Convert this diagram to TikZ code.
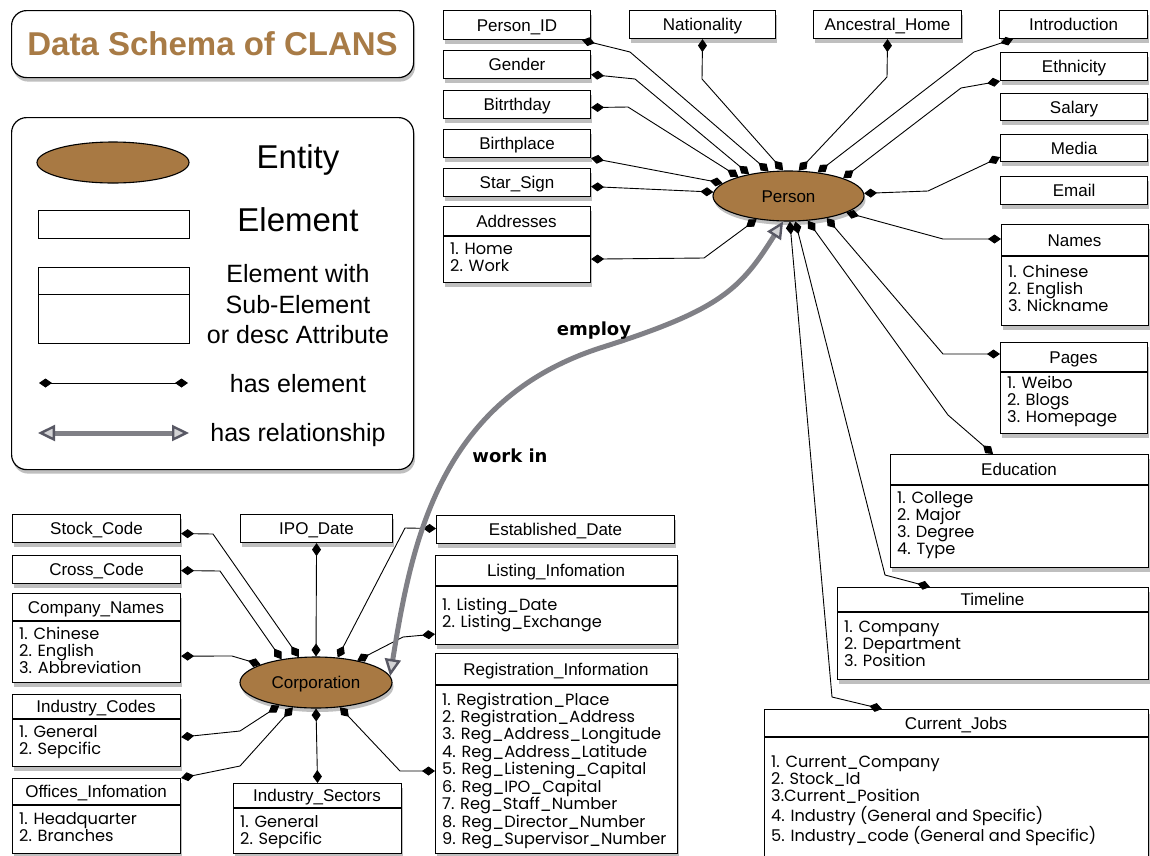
\documentclass[tikz,border=0pt]{standalone}
\usepackage{fontspec}
\setmainfont{Liberation Sans}
\newfontfamily\listfont{Poppins}
\newfontfamily\lblfont{DejaVu Sans}
\usetikzlibrary{shapes.geometric,arrows.meta,shadows,calc}
\definecolor{brownfill}{RGB}{168,121,67}
\definecolor{titlebrown}{RGB}{168,123,70}
\definecolor{relgray}{RGB}{128,128,134}
\definecolor{relhead}{RGB}{88,88,100}
\newcommand\itemlist[1]{\begin{tabular}[t]{@{}l@{}}#1\end{tabular}}
\tikzset{
  shad/.style={drop shadow={shadow xshift=1.5pt,shadow yshift=-4pt,fill=black,opacity=0.25}},
  elem/.style={draw=black, line width=1.1pt, fill=white, shad, inner sep=0pt, anchor=north west,
    font=\fontsize{17}{20}\selectfont, text height=12.4pt, text depth=0pt},
  boxtitle/.style={inner sep=0pt, font=\fontsize{17}{20}\selectfont},
  boxlist/.style={inner sep=0pt, font=\listfont\fontsize{16.2}{17}\selectfont},
  divider/.style={draw=black, line width=1.1pt},
  entity/.style={ellipse, draw=black, line width=1.1pt, fill=brownfill, inner sep=0pt,
    font=\fontsize{17}{20}\selectfont, text height=12.4pt, text depth=0pt},
  panel/.style={draw=black, line width=1.2pt, fill=white, rounded corners=15pt, shad, inner sep=0pt, anchor=north west},
  has/.style={draw=black, line width=0.9pt, arrows={Diamond[length=13pt,width=9pt]-Diamond[length=13pt,width=9pt]}},
  rel/.style={draw=relgray, line width=5pt,
    arrows={Triangle[length=17pt,width=16pt,line width=2.4pt,color=relhead,fill=relgray!35]-Triangle[length=17pt,width=16pt,line width=2.4pt,color=relhead,fill=relgray!35]}},
  rlabel/.style={inner sep=0pt, font=\lblfont\bfseries\fontsize{18}{20}\selectfont},
  legtxt/.style={inner sep=0pt, anchor=base, font=\fontsize{25}{30}\selectfont},
  legbig/.style={inner sep=0pt, anchor=base, font=\fontsize{33}{38}\selectfont},
}
% name x1 y1 x2 y2 text
\newcommand\elembox[6]{%
  \node[elem, minimum width={(#4-#2)*1pt}, minimum height={(#5-#3)*1pt}] (#1) at (#2,#3) {#6};}
% name x1 y1 x2 ydiv y2 title baseline items
\newcommand\compbox[9]{%
  \node[elem, minimum width={(#4-#2)*1pt}, minimum height={(#6-#3)*1pt}] (#1) at (#2,#3) {};
  \draw[divider] ([yshift={-(#5-#3)*1pt}]#1.north west) -- ([yshift={-(#5-#3)*1pt}]#1.north east);
  \node[boxtitle, anchor=base] (#1-t) at ({(#2+#4)/2},{(#3+#5)/2+6}) {#7};
  \node[boxlist, anchor=base west] (#1-l) at ({#2+7},#8) {\itemlist{#9}};}
\begin{document}
\begin{tikzpicture}[x=1pt,y=-1pt]
\path[use as bounding box, fill=white] (0,0) rectangle (1150,855);

% ---------- title and legend ----------
\node[panel, minimum width=402pt, minimum height=67pt, font=\bfseries\fontsize{33}{38}\selectfont, text=titlebrown] (titlebox) at (11,10) {Data Schema of CLANS};
\node[panel, minimum width=402pt, minimum height=352pt] (legend) at (11,117) {};
\node[entity, minimum width=152pt, minimum height=41pt] (legent) at (113,162.5) {};
\node[draw=black, line width=1pt, fill=white, inner sep=0pt, anchor=north west, minimum width=151pt, minimum height=28pt] (legel) at (38,210) {};
\node[draw=black, line width=1pt, fill=white, inner sep=0pt, anchor=north west, minimum width=151pt, minimum height=76pt] (legsub) at (38,267) {};
\draw[line width=1pt] ([yshift=-27pt]legsub.north west) -- ([yshift=-27pt]legsub.north east);
\node[legbig] (lt1) at (298,168) {Entity};
\node[legbig] (lt2) at (298,231) {Element};
\node[legtxt] (lt3) at (298,282) {Element with};
\node[legtxt] (lt4) at (298,313) {Sub-Element};
\node[legtxt] (lt5) at (298,343) {or desc Attribute};
\node[legtxt] (lt6) at (298,392) {has element};
\node[legtxt] (lt7) at (298,441) {has relationship};
\coordinate (legA) at (39,383);
\coordinate (legB) at (188,383);
\draw[has] (legA) -- (legB);
\coordinate (legC) at (38,433);
\coordinate (legD) at (189,433);
\draw[rel] (legC) -- (legD);

% ---------- person side boxes ----------
\elembox{pid}{443}{10}{590}{39}{Person\_ID}
\elembox{gender}{443}{50}{590}{78}{Gender}
\elembox{bday}{443}{90}{590}{118}{Bitrthday}
\elembox{bplace}{443}{129}{590}{157}{Birthplace}
\elembox{star}{443}{168}{590}{196}{Star\_Sign}
\elembox{nat}{629}{10}{775}{38}{Nationality}
\elembox{anc}{813}{10}{961}{38}{Ancestral\_Home}
\elembox{intro}{999}{10}{1147}{38}{Introduction}
\elembox{eth}{1000}{52}{1147}{80}{Ethnicity}
\elembox{salary}{1000}{93}{1147}{120}{Salary}
\elembox{media}{1000}{134}{1147}{161}{Media}
\elembox{email}{1000}{176}{1147}{204}{Email}
\compbox{addr}{443}{206}{590}{236}{282}{Addresses}{254}{1. Home\\2. Work}
\compbox{names}{1001}{224}{1148}{256}{325}{Names}{277}{1. Chinese\\2. English\\3. Nickname}
\compbox{pages}{1000}{342}{1147}{372}{433}{Pages}{388}{1. Weibo\\2. Blogs\\3. Homepage}
\compbox{edu}{890}{454}{1148}{485}{567}{Education}{503}{1. College\\2. Major\\3. Degree\\4. Type}
\compbox{tl}{837}{587}{1148}{612}{679}{Timeline}{632}{1. Company\\2. Department\\3. Position}
\compbox{cj}{764}{709}{1148}{737}{862}{Current\_Jobs}{767}{1. Current\_Company\\2. Stock\_Id\\3.Current\_Position\\4. Industry (General and Specific)\\5. Industry\_code (General and Specific)}

% ---------- corporation side boxes ----------
\elembox{stock}{12}{514}{180}{542}{Stock\_Code}
\elembox{cross}{12}{555}{180}{583}{Cross\_Code}
\elembox{ipo}{240}{514}{392}{542}{IPO\_Date}
\elembox{est}{436}{515}{674}{543}{Established\_Date}
\compbox{cnames}{12}{593}{180}{621}{682}{Company\_Names}{639}{1. Chinese\\2. English\\3. Abbreviation}
\compbox{icodes}{12}{694}{180}{719}{766}{Industry\_Codes}{737}{1. General\\2. Sepcific}
\compbox{offices}{12}{778}{180}{805}{853}{Offices\_Infomation}{824}{1. Headquarter\\2. Branches}
\compbox{isect}{233}{783}{401}{808}{853}{Industry\_Sectors}{827}{1. General\\2. Sepcific}
\compbox{listing}{435}{555}{677}{586}{644}{Listing\_Infomation}{610}{1. Listing\_Date\\2. Listing\_Exchange}
\compbox{reg}{435}{653}{677}{685}{853}{Registration\_Information}{705}{1. Registration\_Place\\2. Registration\_Address\\3. Reg\_Address\_Longitude\\4. Reg\_Address\_Latitude\\5. Reg\_Listening\_Capital\\6. Reg\_IPO\_Capital\\7. Reg\_Staff\_Number\\8. Reg\_Director\_Number\\9. Reg\_Supervisor\_Number}

% ---------- entities ----------
\node[entity, shad, minimum width=151pt, minimum height=50pt] (person) at (788.5,196) {Person};
\node[entity, shad, minimum width=152pt, minimum height=51pt] (corp) at (316,682.5) {Corporation};

% ---------- person connectors ----------
\draw[has] ([xshift=-9pt]pid.south east) -- (630,52) -- (person.129);
\draw[has] ([yshift=-10pt]gender.east) -- (635,79) -- (person.151);
\draw[has] ([yshift=-3pt]bday.east) -- (628,107) -- (person.159);
\draw[has] (bplace.south east) -- (person.169);
\draw[has] ([yshift=-4pt]star.east) -- (person.177);
\draw[has] ([yshift=24pt]addr.south east) -- (704,258) -- (person.216);
\draw[has] (nat.south) -- (702,79) -- (person.102);
\draw[has] (anc.south) -- (887,77) -- (person.68);
\draw[has] ([xshift=14pt]intro.south west) -- (974,52) -- (person.39);
\draw[has] (eth.south west) -- (961,88) -- (person.18);
\draw[has] ([yshift=-9pt]media.west) -- (928,191) -- (person.2);
\draw[has] ([yshift=-15pt]names.north west) -- (943,239) -- (person.-16);
\draw[has] ([yshift=-12pt]pages.north west) -- (943,354) -- (person.-30);
\draw[has] ([xshift=103pt]edu.north west) -- (948,415) -- (person.-52);
\draw[has] ([xshift=93pt]tl.north west) -- (885,575) -- (person.-75);
\draw[has] ([xshift=118pt]cj.north west) -- (832,697) -- (person.-87);

% ---------- corporation connectors ----------
\draw[has] ([yshift=-5pt]stock.east) -- (213,534) -- (corp.124);
\draw[has] ([yshift=-1pt]cross.east) -- (220,571) -- (corp.146);
\draw[has] ([yshift=27pt]cnames.south east) -- (232,656) -- (corp.162);
\draw[has] (ipo.south) -- (corp.90);
\draw[has] ([yshift=1pt]est.west) -- (405,528) -- (corp.49);
\draw[has] ([yshift=11pt]listing.south west) -- (403,637) -- (corp.28);
\draw[has] ([yshift=30pt]icodes.south east) -- (240,731) -- (corp.212);
\draw[has] (offices.north east) -- (240,766) -- (corp.227);
\draw[has] (isect.north) -- (corp.270);
\draw[has] ([yshift=-118pt]reg.north west) -- (400,771) -- (corp.-46);

% ---------- relationship ----------
\draw[rel] (corp.5) .. controls (412,540) and (440,400) .. (600,348) .. controls (720,310) and (740,290) .. (person.258);
\node[rlabel] (employ) at (594,331) {employ};
\node[rlabel] (workin) at (510,456) {work in};
\end{tikzpicture}
\end{document}
